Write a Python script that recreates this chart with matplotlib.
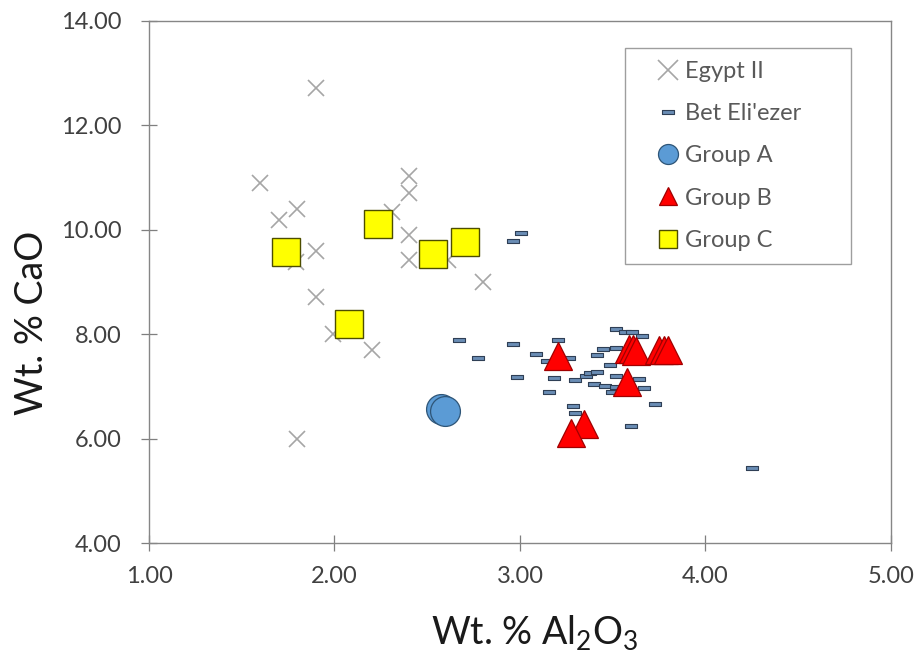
import matplotlib
matplotlib.use("Agg")
import matplotlib.pyplot as plt
from matplotlib.lines import Line2D

plt.rcParams['font.family'] = ['Lato', 'DejaVu Sans']
plt.rcParams['mathtext.default'] = 'regular'

# Egypt II
egypt_x = [1.90, 1.60, 2.40, 2.40, 1.80, 1.70, 2.31, 2.40, 1.90, 2.40, 1.79, 2.61, 2.80, 1.90, 1.99, 2.20, 1.80]
egypt_y = [12.71, 10.90, 11.02, 10.70, 10.39, 10.19, 10.33, 9.90, 9.60, 9.42, 9.38, 9.42, 9.00, 8.72, 8.00, 7.70, 5.99]

# Bet Eli'ezer
bet_x = [3.005, 2.965, 2.673, 2.774, 2.965, 2.985, 3.086, 3.206, 3.146, 3.267, 3.186, 3.156,
         3.297, 3.357, 3.377, 3.417, 3.397, 3.457, 3.417, 3.447, 3.488, 3.518, 3.518, 3.498,
         3.518, 3.518, 3.568, 3.603, 3.659, 3.639, 3.669, 3.729, 3.598, 3.287, 3.297, 4.251]
bet_y = [9.93, 9.79, 7.89, 7.55, 7.81, 7.19, 7.63, 7.89, 7.49, 7.55, 7.17, 6.89,
         7.12, 7.20, 7.25, 7.27, 7.05, 7.01, 7.61, 7.71, 7.42, 7.73, 7.20, 6.90,
         6.99, 8.10, 8.04, 8.05, 7.97, 7.14, 6.98, 6.66, 6.24, 6.63, 6.50, 5.44]

# Group A
a_x = [2.572, 2.597]
a_y = [6.57, 6.53]

# Group B
b_x = [3.206, 3.588, 3.608, 3.628, 3.749, 3.779, 3.799, 3.578, 3.347, 3.277]
b_y = [7.59, 7.71, 7.71, 7.68, 7.70, 7.70, 7.70, 7.09, 6.29, 6.11]

# Group C
c_x = [1.739, 2.232, 2.533, 2.703, 2.081]
c_y = [9.58, 10.10, 9.53, 9.76, 8.19]

x_ticks = [1.0, 2.0, 3.0, 4.0, 5.0]
y_ticks = [4.0, 6.0, 8.0, 10.0, 12.0, 14.0]

dash_marker = [(-1, -0.42), (1, -0.42), (1, 0.42), (-1, 0.42), (-1, -0.42)]

fig = plt.figure(figsize=(9.19, 6.52), dpi=100)
ax = fig.add_axes([0.1621, 0.1667, 0.8074, 0.8016])

ax.plot(egypt_x, egypt_y, linestyle='none', marker='x', markersize=12,
        markeredgecolor='#a6a6a6', markeredgewidth=1.2, zorder=2)
ax.plot(bet_x, bet_y, linestyle='none', marker=dash_marker, markersize=8,
        markerfacecolor='#6a8db5', markeredgecolor='#2f3f55', markeredgewidth=0.8, zorder=3)
ax.plot(a_x, a_y, linestyle='none', marker='o', markersize=21.5,
        markerfacecolor='#5b9bd5', markeredgecolor='#2e5577', markeredgewidth=0.9, zorder=4)
ax.plot(b_x, b_y, linestyle='none', marker='^', markersize=20,
        markerfacecolor='#ff0000', markeredgecolor='#a00000', markeredgewidth=0.9, zorder=4)
ax.plot(c_x, c_y, linestyle='none', marker='s', markersize=20,
        markerfacecolor='#ffff00', markeredgecolor='#4d4d00', markeredgewidth=1.0, zorder=5)

ax.set_xlim(1.0, 5.0)
ax.set_ylim(4.0, 14.0)
ax.set_xticks(x_ticks)
ax.set_yticks(y_ticks)
ax.set_xticklabels([f"{v:.2f}" for v in x_ticks])
ax.set_yticklabels([f"{v:.2f}" for v in y_ticks])
ax.tick_params(direction='inout', length=12, width=0.9, color='#7f7f7f',
               labelsize=17, labelcolor='#404040')
ax.tick_params(axis='x', pad=10.4)
ax.tick_params(axis='y', pad=13.5)
for s in ['top', 'right', 'left', 'bottom']:
    ax.spines[s].set_color('#868686')
    ax.spines[s].set_linewidth(1.0)

ax.set_xlabel('Wt. % Al$_2$O$_3$', fontsize=27, color='#1a1a1a')
ax.set_ylabel('Wt. % CaO', fontsize=27, color='#1a1a1a')
ax.xaxis.set_label_coords(0.520, -0.133)
ax.yaxis.set_label_coords(-0.133, 0.4216)

handles = [
    Line2D([], [], linestyle='none', marker='x', markersize=14.4,
           markeredgecolor='#a6a6a6', markeredgewidth=1.2),
    Line2D([], [], linestyle='none', marker=dash_marker, markersize=8,
           markerfacecolor='#6a8db5', markeredgecolor='#2f3f55', markeredgewidth=0.8),
    Line2D([], [], linestyle='none', marker='o', markersize=14.4,
           markerfacecolor='#5b9bd5', markeredgecolor='#2e5577', markeredgewidth=0.9),
    Line2D([], [], linestyle='none', marker='^', markersize=13,
           markerfacecolor='#ff0000', markeredgecolor='#a00000', markeredgewidth=0.9),
    Line2D([], [], linestyle='none', marker='s', markersize=13,
           markerfacecolor='#ffff00', markeredgecolor='#4d4d00', markeredgewidth=1.0),
]
labels = ['Egypt II', "Bet Eli'ezer", 'Group A', 'Group B', 'Group C']
leg = ax.legend(handles, labels, loc='upper left', bbox_to_anchor=(0.6415, 0.0, 0.3046, 0.948),
                mode='expand', borderaxespad=0, fontsize=17, frameon=True, fancybox=False,
                handlelength=2.54, handletextpad=-0.55, labelspacing=0.9,
                borderpad=0.55, labelcolor='#595959')
leg.get_frame().set_edgecolor('#868686')
leg.get_frame().set_linewidth(1.0)

fig.savefig('out.png', dpi=100)
